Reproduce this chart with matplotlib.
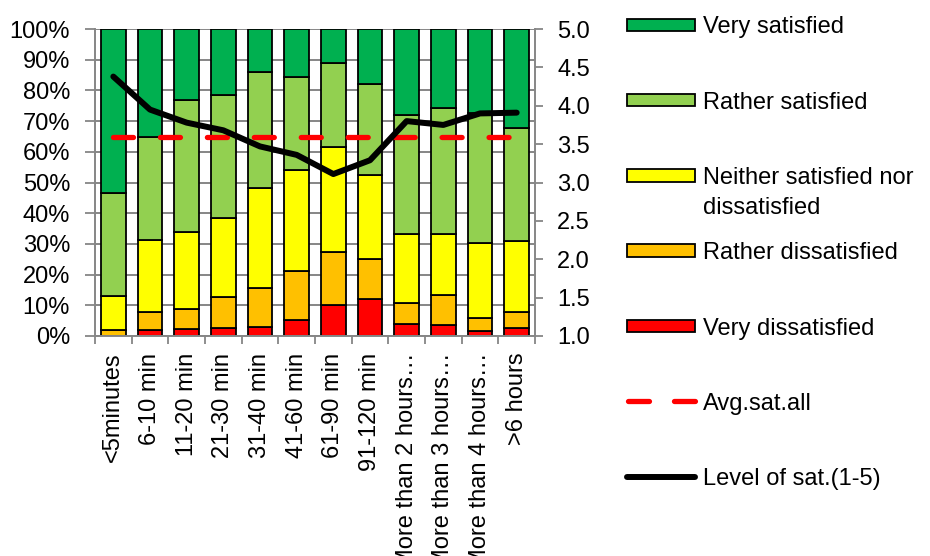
import matplotlib
matplotlib.use('Agg')
import matplotlib.pyplot as plt
import matplotlib.ticker as mticker
from matplotlib.patches import Rectangle
from matplotlib.lines import Line2D
import numpy as np

plt.rcParams['font.family'] = ['Liberation Sans', 'DejaVu Sans']
plt.rcParams['font.size'] = 17
plt.rcParams['lines.scale_dashes'] = False

# data (percent of respondents per waiting time)
categories = ['<5minutes', '6-10 min', '11-20 min', '21-30 min', '31-40 min', '41-60 min',
              '61-90 min', '91-120 min', 'More than 2 hours…', 'More than 3 hours…',
              'More than 4 hours…', '>6 hours']
very_dissatisfied = [0.0, 1.8, 2.3, 2.7, 3.0, 5.3, 10.1, 12.1, 3.8, 3.5, 1.5, 2.5]
rather_dissatisfied = [2.0, 6.0, 6.6, 10.1, 12.5, 16.0, 17.4, 12.9, 6.8, 9.9, 4.5, 5.2]
neither = [11.0, 23.5, 25.1, 25.5, 32.6, 32.8, 34.2, 27.3, 22.7, 19.9, 24.2, 23.3]
rather_satisfied = [33.6, 33.4, 42.8, 40.1, 37.9, 30.2, 27.3, 29.7, 38.8, 41.1, 42.3, 36.7]
very_satisfied = [53.4, 35.3, 23.2, 21.6, 14.0, 15.7, 11.0, 18.0, 27.9, 25.6, 27.5, 32.3]
level_sat = [4.38, 3.95, 3.78, 3.68, 3.47, 3.36, 3.11, 3.29, 3.80, 3.75, 3.90, 3.91]
avg_sat_all = 3.59

series = [
    ('Very dissatisfied', very_dissatisfied, '#FF0000'),
    ('Rather dissatisfied', rather_dissatisfied, '#FFC000'),
    ('Neither satisfied nor\ndissatisfied', neither, '#FFFF00'),
    ('Rather satisfied', rather_satisfied, '#92D050'),
    ('Very satisfied', very_satisfied, '#00B050'),
]

W, H = 930, 556
fig = plt.figure(figsize=(W / 100, H / 100), dpi=100)
ax = fig.add_axes([95 / W, 1 - 336 / H, 440 / W, 307 / H])
grey = '#868686'

x = np.arange(len(categories))
bottom = np.zeros(len(categories))
for name, vals, col in series:
    ax.bar(x, vals, width=0.68, bottom=bottom, color=col, edgecolor='black', linewidth=1.3)
    bottom += np.array(vals)

ax.set_xlim(-0.5, len(categories) - 0.5)
ax.set_ylim(0, 100)
ax.yaxis.set_major_locator(mticker.MultipleLocator(10))
ax.yaxis.set_major_formatter(mticker.FuncFormatter(lambda v, p: f'{v:.0f}%'))
ax.set_axisbelow(True)
ax.grid(axis='y', color=grey, linewidth=1.4)
ax.tick_params(axis='y', direction='out', length=7, width=1.3, color=grey, pad=11)

ax.set_xticks(x)
ax.set_xticklabels(categories, rotation=90, va='top', ha='center')
ax.set_xticks(np.arange(len(categories) + 1) - 0.5, minor=True)
ax.tick_params(axis='x', which='major', length=0, pad=12)
ax.tick_params(axis='x', which='minor', direction='out', length=6, width=1.3, color=grey)

for s in ['top', 'right']:
    ax.spines[s].set_visible(False)
for s in ['left', 'bottom']:
    ax.spines[s].set_color(grey)
    ax.spines[s].set_linewidth(1.4)

ax2 = ax.twinx()
ax2.set_ylim(1, 5)
ax2.yaxis.set_major_locator(mticker.MultipleLocator(0.5))
ax2.yaxis.set_major_formatter(mticker.FormatStrFormatter('%.1f'))
ax2.tick_params(axis='y', direction='out', length=6, width=1.3, color=grey, pad=10)
for s in ['top', 'left', 'bottom']:
    ax2.spines[s].set_visible(False)
ax2.spines['right'].set_color(grey)
ax2.spines['right'].set_linewidth(1.4)

ax2.plot(x, [avg_sat_all] * len(x), color='#FF0000', linewidth=3.8,
         dashes=(14.4, 19.4), dash_capstyle='round')
ax2.plot(x, level_sat, color='black', linewidth=4.3, solid_capstyle='round',
         solid_joinstyle='round')

# legend drawn by hand to keep Excel's layout (handle aligned with first text line)
entries = [(n, c) for n, v, c in series[::-1]]
y0, step = 24.8, 75.3


def legend_text(yc, label):
    for k, line in enumerate(label.split('\n')):
        fig.text(703 / W, 1 - (yc + 30 * k) / H, line, va='center_baseline', ha='left')


for i, (name, col) in enumerate(entries):
    yc = y0 + i * step
    fig.add_artist(Rectangle((627 / W, 1 - (yc + 6.3) / H), 68 / W, 12.6 / H,
                             transform=fig.transFigure, facecolor=col,
                             edgecolor='black', linewidth=1.3))
    legend_text(yc, name)

yc = y0 + 5 * step
fig.add_artist(Line2D([627.5 / W, 694.5 / W], [1 - yc / H] * 2, transform=fig.transFigure,
                      color='#FF0000', linewidth=3.8, dashes=(15.1, 18.0),
                      dash_capstyle='round'))
legend_text(yc, 'Avg.sat.all')
yc = y0 + 6 * step
fig.add_artist(Line2D([627 / W, 695 / W], [1 - yc / H] * 2, transform=fig.transFigure,
                      color='black', linewidth=4.3, solid_capstyle='round'))
legend_text(yc, 'Level of sat.(1-5)')

fig.savefig('out.png', dpi=100)
